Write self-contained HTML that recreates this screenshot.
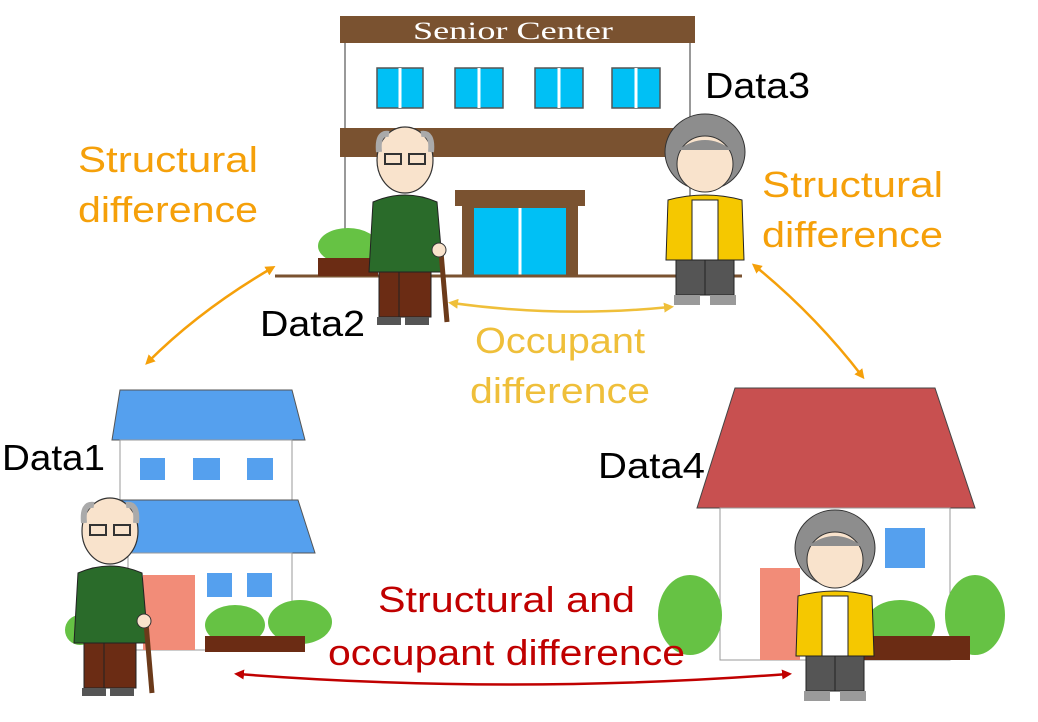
<!DOCTYPE html>
<html><head><meta charset="utf-8"><style>
html,body{margin:0;padding:0;background:#fff;}
svg{display:block;font-family:"Liberation Sans",sans-serif;}
</style></head><body>
<svg width="1038" height="722" viewBox="0 0 1038 722" xmlns="http://www.w3.org/2000/svg">
<defs>
<marker id="ao" markerWidth="10" markerHeight="10" refX="6" refY="5" orient="auto-start-reverse" markerUnits="userSpaceOnUse"><path d="M0,0 L10,5 L0,10 z" fill="#f5a00a"/></marker>
<marker id="ay" markerWidth="10" markerHeight="10" refX="6" refY="5" orient="auto-start-reverse" markerUnits="userSpaceOnUse"><path d="M0,0 L10,5 L0,10 z" fill="#efbf3a"/></marker>
<marker id="ar" markerWidth="10" markerHeight="10" refX="6" refY="5" orient="auto-start-reverse" markerUnits="userSpaceOnUse"><path d="M0,0 L10,5 L0,10 z" fill="#c00000"/></marker>
<g id="man">
 <ellipse cx="40" cy="38" rx="28" ry="33" fill="#f9e3cc" stroke="#333" stroke-width="1.2"/>
 <path d="M14,30 Q12,10 24,12 M66,30 Q68,10 56,12" stroke="#aaa" stroke-width="6" fill="none"/>
 <rect x="20" y="32" width="16" height="10" fill="none" stroke="#333" stroke-width="2"/>
 <rect x="44" y="32" width="16" height="10" fill="none" stroke="#333" stroke-width="2"/>
 <path d="M8,80 Q40,66 72,80 L78,150 L4,150 Z" fill="#2a6b2a" stroke="#222" stroke-width="1"/>
 <rect x="14" y="150" width="52" height="45" fill="#6b2c14" stroke="#222" stroke-width="1"/>
 <line x1="34" y1="150" x2="34" y2="195" stroke="#222"/>
 <rect x="12" y="195" width="24" height="8" fill="#555"/><rect x="40" y="195" width="24" height="8" fill="#555"/>
 <line x1="76" y1="130" x2="82" y2="200" stroke="#6b3a1a" stroke-width="5"/>
 <circle cx="74" cy="128" r="7" fill="#f9e3cc" stroke="#333"/>
</g>
<g id="woman">
 <ellipse cx="45" cy="40" rx="40" ry="38" fill="#8d8d8d" stroke="#333"/>
 <ellipse cx="45" cy="52" rx="28" ry="28" fill="#f9e3cc" stroke="#333"/>
 <path d="M18,38 Q45,18 72,38" fill="#8d8d8d"/>
 <path d="M8,88 Q45,78 82,88 L84,148 L6,148 Z" fill="#f5c800" stroke="#222"/>
 <rect x="32" y="88" width="26" height="60" fill="#fff" stroke="#222"/>
 <rect x="16" y="148" width="58" height="35" fill="#555" stroke="#222"/>
 <line x1="45" y1="148" x2="45" y2="183" stroke="#222"/>
 <rect x="14" y="183" width="26" height="10" fill="#9a9a9a"/><rect x="50" y="183" width="26" height="10" fill="#9a9a9a"/>
</g>
</defs>

<rect x="345" y="40" width="345" height="236" fill="#fff" stroke="#999" stroke-width="2"/>
<rect x="340" y="16" width="355" height="27" fill="#7a5230"/>
<text x="413" y="39" font-size="25" fill="#fff" textLength="200" lengthAdjust="spacingAndGlyphs" font-family="Liberation Serif,serif">Senior Center</text>
<g fill="#00c0f5" stroke="#555" stroke-width="1.5">
<rect x="377" y="68" width="46" height="40"/><rect x="455" y="68" width="48" height="40"/><rect x="535" y="68" width="48" height="40"/><rect x="612" y="68" width="48" height="40"/>
</g>
<g stroke="#fff" stroke-width="3"><line x1="400" y1="68" x2="400" y2="108"/><line x1="479" y1="68" x2="479" y2="108"/><line x1="559" y1="68" x2="559" y2="108"/><line x1="636" y1="68" x2="636" y2="108"/></g>
<rect x="340" y="128" width="355" height="29" fill="#7a5230"/>
<rect x="455" y="190" width="130" height="16" fill="#7a5230"/>
<rect x="462" y="206" width="116" height="70" fill="#7a5230"/>
<rect x="474" y="208" width="92" height="68" fill="#00c0f5"/>
<line x1="520" y1="208" x2="520" y2="276" stroke="#fff" stroke-width="3"/>
<line x1="275" y1="276" x2="742" y2="276" stroke="#7a5230" stroke-width="3"/>
<ellipse cx="348" cy="246" rx="30" ry="18" fill="#66c244"/>
<rect x="318" y="258" width="60" height="18" fill="#6b2c14"/>
<use href="#man" x="365" y="122"/>
<use href="#woman" x="660" y="112"/>

<polygon points="120,390 292,390 305,440 112,440" fill="#55a0ee" stroke="#555"/>
<rect x="120" y="440" width="172" height="60" fill="#fff" stroke="#999"/>
<g fill="#55a0ee"><rect x="140" y="458" width="25" height="22"/><rect x="193" y="458" width="27" height="22"/><rect x="247" y="458" width="26" height="22"/></g>
<polygon points="120,500 298,500 315,553 112,553" fill="#55a0ee" stroke="#555"/>
<rect x="128" y="553" width="164" height="97" fill="#fff" stroke="#999"/>
<rect x="143" y="575" width="52" height="75" fill="#f28c78"/>
<g fill="#55a0ee"><rect x="207" y="573" width="25" height="24"/><rect x="247" y="573" width="25" height="24"/></g>
<ellipse cx="235" cy="625" rx="30" ry="20" fill="#66c244"/><ellipse cx="300" cy="622" rx="32" ry="22" fill="#66c244"/><ellipse cx="80" cy="630" rx="15" ry="15" fill="#66c244"/>
<rect x="205" y="636" width="100" height="16" fill="#6b2c14"/>
<use href="#man" x="70" y="493"/>

<polygon points="735,388 935,388 975,508 697,508" fill="#c85050" stroke="#444"/>
<rect x="720" y="508" width="230" height="152" fill="#fff" stroke="#999"/>
<rect x="885" y="528" width="40" height="40" fill="#55a0ee"/>
<rect x="760" y="568" width="40" height="92" fill="#f28c78"/>
<ellipse cx="690" cy="615" rx="32" ry="40" fill="#66c244"/><ellipse cx="975" cy="615" rx="30" ry="40" fill="#66c244"/><ellipse cx="900" cy="625" rx="35" ry="25" fill="#66c244"/>
<rect x="860" y="636" width="110" height="24" fill="#6b2c14"/>
<use href="#woman" x="790" y="508"/>

<path d="M272,268 Q200,310 148,362" stroke="#f5a00a" stroke-width="2.5" fill="none" marker-start="url(#ao)" marker-end="url(#ao)"/>
<path d="M755,266 Q815,315 862,376" stroke="#f5a00a" stroke-width="2.5" fill="none" marker-start="url(#ao)" marker-end="url(#ao)"/>
<path d="M452,303 Q560,318 670,307" stroke="#efbf3a" stroke-width="2.5" fill="none" marker-start="url(#ay)" marker-end="url(#ay)"/>
<path d="M238,674 Q510,695 788,674" stroke="#c00000" stroke-width="2.5" fill="none" marker-start="url(#ar)" marker-end="url(#ar)"/>

<g font-size="36" lengthAdjust="spacingAndGlyphs">
<text x="78" y="172" fill="#f5a00a" textLength="180" lengthAdjust="spacingAndGlyphs">Structural</text>
<text x="78" y="222" fill="#f5a00a" textLength="180" lengthAdjust="spacingAndGlyphs">difference</text>
<text x="762" y="197" fill="#f5a00a" textLength="181" lengthAdjust="spacingAndGlyphs">Structural</text>
<text x="762" y="247" fill="#f5a00a" textLength="181" lengthAdjust="spacingAndGlyphs">difference</text>
<text x="475" y="353" fill="#efbf3a" textLength="170" lengthAdjust="spacingAndGlyphs">Occupant</text>
<text x="470" y="403" fill="#efbf3a" textLength="180" lengthAdjust="spacingAndGlyphs">difference</text>
<text x="378" y="612" fill="#c00000" textLength="257" lengthAdjust="spacingAndGlyphs">Structural and</text>
<text x="328" y="665" fill="#c00000" textLength="357" lengthAdjust="spacingAndGlyphs">occupant difference</text>
<text x="2" y="470" fill="#000" textLength="103" lengthAdjust="spacingAndGlyphs">Data1</text>
<text x="260" y="336" fill="#000" textLength="105" lengthAdjust="spacingAndGlyphs">Data2</text>
<text x="705" y="98" fill="#000" textLength="105" lengthAdjust="spacingAndGlyphs">Data3</text>
<text x="598" y="478" fill="#000" textLength="107" lengthAdjust="spacingAndGlyphs">Data4</text>
</g>
</svg>
</body></html>
